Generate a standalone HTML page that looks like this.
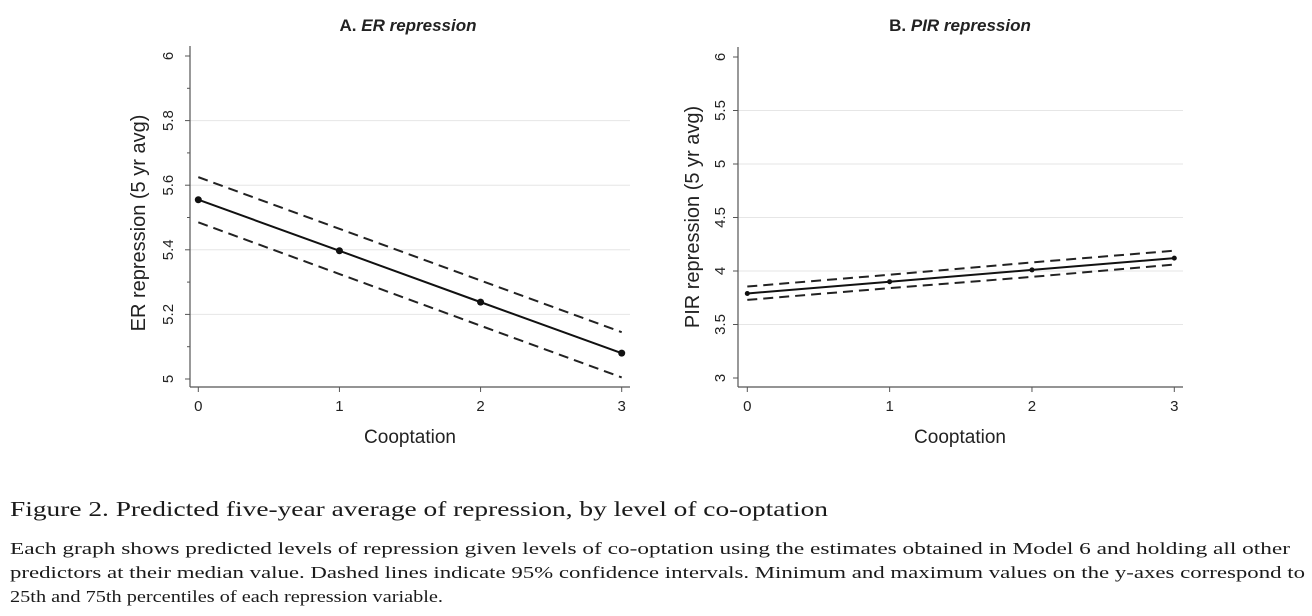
<!DOCTYPE html>
<html><head><meta charset="utf-8"><style>
html,body{margin:0;padding:0;background:#fff;}
svg{display:block;}
.t{font-family:"Liberation Sans",sans-serif;fill:#222;}
.cap{font-family:"Liberation Serif",serif;fill:#1a1a1a;}
</style></head><body>
<svg id="fig" width="1312" height="616" viewBox="0 0 1312 616">
<text class="t" x="408" y="31" font-size="17" font-weight="bold" text-anchor="middle">A.  <tspan font-style="italic">ER repression</tspan></text>
<text class="t" x="960" y="31" font-size="17" font-weight="bold" text-anchor="middle">B.  <tspan font-style="italic">PIR repression</tspan></text>
<text class="t" x="410" y="443" font-size="19" text-anchor="middle">Cooptation</text>
<text class="t" x="960" y="443" font-size="19" text-anchor="middle">Cooptation</text>
<text class="t" transform="translate(145,223) rotate(-90)" font-size="20" text-anchor="middle">ER repression (5 yr avg)</text>
<text class="t" transform="translate(699,217) rotate(-90)" font-size="20" text-anchor="middle">PIR repression (5 yr avg)</text>
<g id="pa"></g><g id="pb"></g>
<text class="cap" x="10" y="516" font-size="21" textLength="818" lengthAdjust="spacingAndGlyphs">Figure 2. Predicted five-year average of repression, by level of co-optation</text>
<text class="cap" x="10" y="554" font-size="17" textLength="1280" lengthAdjust="spacingAndGlyphs">Each graph shows predicted levels of repression given levels of co-optation using the estimates obtained in Model 6 and holding all other</text>
<text class="cap" x="10" y="578" font-size="17" textLength="1295" lengthAdjust="spacingAndGlyphs">predictors at their median value. Dashed lines indicate 95% confidence intervals. Minimum and maximum values on the y-axes correspond to</text>
<text class="cap" x="10" y="602" font-size="17" textLength="433" lengthAdjust="spacingAndGlyphs">25th and 75th percentiles of each repression variable.</text>
</svg>
<script>
const categories=[0,1,2,3];
const erMid=[5.555,5.397,5.238,5.08];
const erUpper=[5.625,5.465,5.305,5.145];
const erLower=[5.485,5.325,5.165,5.005];
const erTicks=[5,5.2,5.4,5.6,5.8,6];
const erTickLabels=["5","5.2","5.4","5.6","5.8","6"];
const pirMid=[3.79,3.90,4.01,4.12];
const pirUpper=[3.855,3.965,4.08,4.19];
const pirLower=[3.73,3.84,3.945,4.06];
const pirTicks=[3,3.5,4,4.5,5,5.5,6];
const pirTickLabels=["3","3.5","4","4.5","5","5.5","6"];
const NS='http://www.w3.org/2000/svg';
function mk(tag,attrs,parent){const e=document.createElementNS(NS,tag);for(const k in attrs)e.setAttribute(k,attrs[k]);parent.appendChild(e);return e;}
function panel(g,cfg,mid,up,lo,ticks,labels,minor){
  const x=v=>cfg.x0+(v-categories[0])/(categories[3]-categories[0])*(cfg.x1-cfg.x0);
  const y=v=>cfg.yb+(v-cfg.ymin)/(cfg.ymax-cfg.ymin)*(cfg.yt-cfg.yb);
  ticks.forEach((t,i)=>{
    if(i>0&&i<ticks.length-1){const gl=mk('line',{x1:cfg.ax,x2:cfg.gx,y1:y(t),y2:y(t),stroke:'#e6e6e6','stroke-width':1},g);
    
    }
    mk('line',{x1:cfg.ax-5,x2:cfg.ax,y1:y(t),y2:y(t),stroke:'#555','stroke-width':1},g);
    const tx=mk('text',{class:'t','font-size':15,'text-anchor':'middle',transform:`translate(${cfg.ax-cfg.lo},${y(t)}) rotate(-90)`},g);
    
    
    tx.textContent=labels[i];
  });
  minor.forEach(t=>mk('line',{x1:cfg.ax-3,x2:cfg.ax,y1:y(t),y2:y(t),stroke:'#555','stroke-width':1},g));
  mk('line',{x1:cfg.ax,x2:cfg.ax,y1:cfg.yt-10,y2:cfg.axb,stroke:'#555','stroke-width':1.2},g);
  mk('line',{x1:cfg.ax,x2:cfg.gx,y1:cfg.axb,y2:cfg.axb,stroke:'#555','stroke-width':1.2},g);
  categories.forEach(c=>{
    mk('line',{x1:x(c),x2:x(c),y1:cfg.axb,y2:cfg.axb+5,stroke:'#555','stroke-width':1},g);
    const tx=mk('text',{class:'t','font-size':15,'text-anchor':'middle',x:x(c),y:cfg.axb+24},g);
    
    
    tx.textContent=String(c);
  });
  const pts=a=>a.map((v,i)=>x(categories[i])+','+y(v)).join(' ');
  const u=mk('polyline',{points:pts(up),fill:'none',stroke:'#222','stroke-width':2,'stroke-dasharray':'10,6'},g);
  
  
  const l=mk('polyline',{points:pts(lo),fill:'none',stroke:'#222','stroke-width':2,'stroke-dasharray':'10,6'},g);
  
  
  const m=mk('polyline',{points:pts(mid),fill:'none',stroke:'#111','stroke-width':2},g);
  
  
  mid.forEach((v,i)=>{const c=mk('circle',{cx:x(categories[i]),cy:y(v),r:cfg.r,fill:'#111'},g);
    
    });
}
const erMinor=[5.1,5.3,5.5,5.7,5.9];
panel(document.getElementById('pa'),{x0:198.3,x1:621.7,yb:379,yt:56,ymin:5,ymax:6,ax:190,gx:630,axb:387,r:3.5,lo:17},erMid,erUpper,erLower,erTicks,erTickLabels,erMinor);
panel(document.getElementById('pb'),{x0:747.3,x1:1174.3,yb:378,yt:57,ymin:3,ymax:6,ax:738,gx:1183,axb:387,r:2.5,lo:13},pirMid,pirUpper,pirLower,pirTicks,pirTickLabels,[]);
</script>
</body></html>
